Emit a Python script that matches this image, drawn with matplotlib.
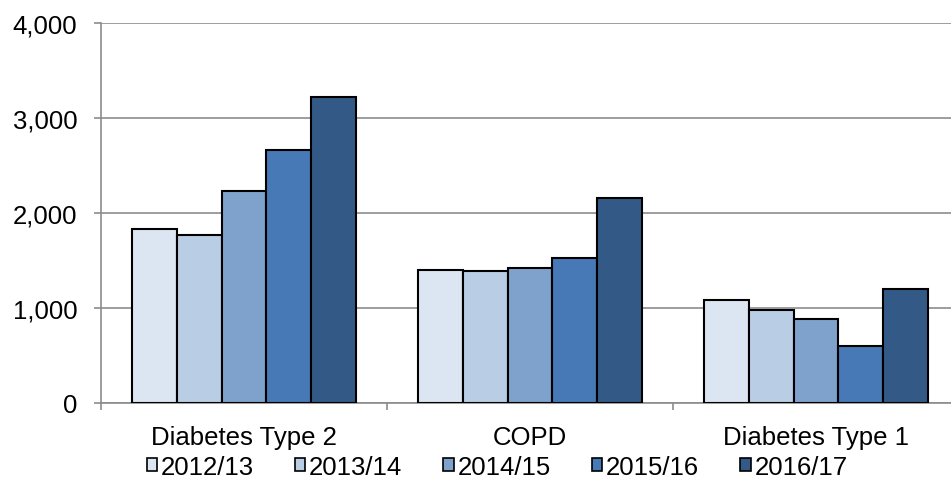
import matplotlib.pyplot as plt
import numpy as np
from matplotlib.patches import Patch
from matplotlib.ticker import FuncFormatter

plt.rcParams['font.family'] = ['Liberation Sans', 'DejaVu Sans']

categories = ['Diabetes Type 2', 'COPD', 'Diabetes Type 1']
years = ['2012/13', '2013/14', '2014/15', '2015/16', '2016/17']
v_2012 = [1830, 1400, 1085]
v_2013 = [1765, 1385, 980]
v_2014 = [2230, 1425, 880]
v_2015 = [2665, 1530, 595]
v_2016 = [3220, 2160, 1195]
series = [v_2012, v_2013, v_2014, v_2015, v_2016]
colors = ['#DCE6F2', '#B9CDE5', '#7FA2CD', '#4779B6', '#335A87']

fig = plt.figure(figsize=(9.51, 4.85), dpi=100)
# axes runs slightly past the right edge, like the original
ax = fig.add_axes([101 / 951, 81 / 485, 858 / 951, 380 / 485])

x = np.arange(len(categories))
w = 0.156
for i, (vals, c) in enumerate(zip(series, colors)):
    ax.bar(x + (i - 2) * w, vals, w, color=c, edgecolor='black', linewidth=1.5, zorder=3)

ax.set_xlim(-0.5, 2.5)
ax.set_ylim(0, 4000)
ax.set_yticks([0, 1000, 2000, 3000, 4000])
ax.yaxis.set_major_formatter(FuncFormatter(lambda v, p: f'{int(v):,}'))
ax.grid(axis='y', color='#8c8c8c', linewidth=1.2, zorder=0)

ax.set_xticks([-0.5, 0.5, 1.5, 2.5])
ax.set_xticklabels([])
ax.set_xticks(x, minor=True)
ax.set_xticklabels(categories, minor=True)
ax.tick_params(axis='x', which='minor', length=0, labelsize=18.5, pad=16)
ax.tick_params(axis='x', which='major', length=5, color='#8c8c8c', width=1.2)
ax.tick_params(axis='y', length=5, color='#8c8c8c', width=1.2, labelsize=18.5, pad=12)

for s in ['top', 'right']:
    ax.spines[s].set_visible(False)
for s in ['left', 'bottom']:
    ax.spines[s].set_color('#8c8c8c')
    ax.spines[s].set_linewidth(1.2)

handles = [Patch(facecolor=c, edgecolor='black', linewidth=1.2) for c in colors]
fig.legend(handles, years, loc='center', bbox_to_anchor=(497 / 951, 1 - 468 / 485),
           ncol=5, frameon=False, fontsize=18.5, handlelength=0.4, handleheight=0.4,
           handletextpad=0.15, columnspacing=1.6, borderpad=0)

fig.savefig('out.png', dpi=100)
